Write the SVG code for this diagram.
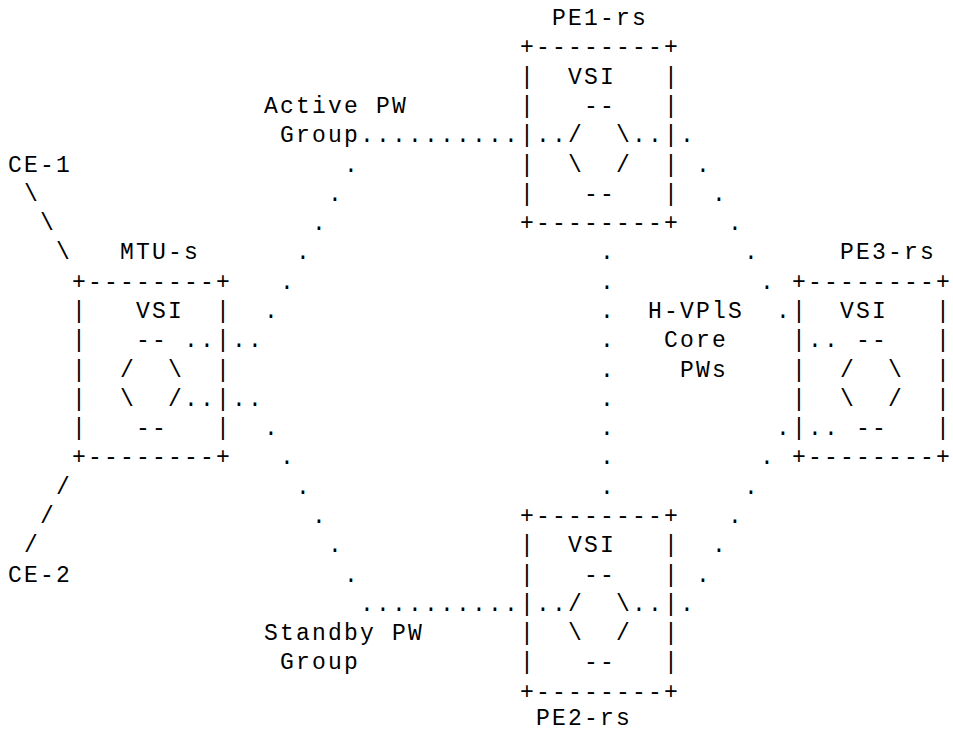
<svg xmlns="http://www.w3.org/2000/svg" width="953" height="733" viewBox="0 0 953 733">
<style>
text { font-family: "Liberation Mono", "DejaVu Sans Mono", monospace; font-size: 23px; letter-spacing: 2.2px; fill: #000000; white-space: pre; }
</style>
<rect width="953" height="733" fill="#fff"/>
<g id="ce1"><text x="8.1" y="171.5">CE-1</text></g>
<g id="ce2"><text x="8.1" y="581.5">CE-2</text></g>
<g id="mtu-s" xml:space="preserve">
<text x="120.1" y="259.3">MTU-s</text>
<text x="72.1" y="288.6">+--------+</text>
<text x="72.1" y="317.9">|   VSI  |</text>
<text x="72.1" y="347.2">|   -- ..|</text>
<text x="72.1" y="376.5">|  /  \  |</text>
<text x="72.1" y="405.8">|  \  /..|</text>
<text x="72.1" y="435.1">|   --   |</text>
<text x="72.1" y="464.4">+--------+</text>
</g>
<g id="pe1-rs" xml:space="preserve">
<text x="552.1" y="25">PE1-rs</text>
<text x="520.1" y="54.3">+--------+</text>
<text x="520.1" y="83.6">|  VSI   |</text>
<text x="520.1" y="112.9">|   --   |</text>
<text x="520.1" y="142.2">|../  \..|</text>
<text x="520.1" y="171.5">|  \  /  |</text>
<text x="520.1" y="200.7">|   --   |</text>
<text x="520.1" y="230">+--------+</text>
</g>
<g id="pe3-rs" xml:space="preserve">
<text x="840.1" y="259.3">PE3-rs</text>
<text x="792.1" y="288.6">+--------+</text>
<text x="792.1" y="317.9">|  VSI   |</text>
<text x="792.1" y="347.2">|.. --   |</text>
<text x="792.1" y="376.5">|  /  \  |</text>
<text x="792.1" y="405.8">|  \  /  |</text>
<text x="792.1" y="435.1">|.. --   |</text>
<text x="792.1" y="464.4">+--------+</text>
</g>
<g id="pe2-rs" xml:space="preserve">
<text x="520.1" y="522.9">+--------+</text>
<text x="520.1" y="552.2">|  VSI   |</text>
<text x="520.1" y="581.5">|   --   |</text>
<text x="520.1" y="610.8">|../  \..|</text>
<text x="520.1" y="640.1">|  \  /  |</text>
<text x="520.1" y="669.4">|   --   |</text>
<text x="520.1" y="698.7">+--------+</text>
<text x="536.1" y="725">PE2-rs</text>
</g>
<g id="labels">
<text x="264.1" y="112.9">Active PW</text>
<text x="280.1" y="142.2">Group</text>
<text x="264.1" y="640.1">Standby PW</text>
<text x="280.1" y="669.4">Group</text>
<text x="648.1" y="317.9">H-VPlS</text>
<text x="664.1" y="347.2">Core</text>
<text x="680.1" y="376.5">PWs</text>
</g>
<g id="connectors">
<text x="24.1" y="200.7">\</text>
<text x="40.1" y="230">\</text>
<text x="56.1" y="259.3">\</text>
<text x="56.1" y="493.6">/</text>
<text x="40.1" y="522.9">/</text>
<text x="24.1" y="552.2">/</text>
<text x="360.1" y="142.2">..........</text>
<text x="344.1" y="171.5">.</text>
<text x="328.1" y="200.7">.</text>
<text x="312.1" y="230">.</text>
<text x="296.1" y="259.3">.</text>
<text x="280.1" y="288.6">.</text>
<text x="264.1" y="317.9">.</text>
<text x="232.1" y="347.2">..</text>
<text x="232.1" y="405.8">..</text>
<text x="264.1" y="435.1">.</text>
<text x="280.1" y="464.4">.</text>
<text x="296.1" y="493.6">.</text>
<text x="312.1" y="522.9">.</text>
<text x="328.1" y="552.2">.</text>
<text x="344.1" y="581.5">.</text>
<text x="360.1" y="610.8">..........</text>
<text x="600.1" y="259.3">.</text>
<text x="600.1" y="288.6">.</text>
<text x="600.1" y="317.9">.</text>
<text x="600.1" y="347.2">.</text>
<text x="600.1" y="376.5">.</text>
<text x="600.1" y="405.8">.</text>
<text x="600.1" y="435.1">.</text>
<text x="600.1" y="464.4">.</text>
<text x="600.1" y="493.6">.</text>
<text x="680.1" y="142.2">.</text>
<text x="696.1" y="171.5">.</text>
<text x="712.1" y="200.7">.</text>
<text x="728.1" y="230">.</text>
<text x="744.1" y="259.3">.</text>
<text x="760.1" y="288.6">.</text>
<text x="776.1" y="317.9">.</text>
<text x="776.1" y="435.1">.</text>
<text x="760.1" y="464.4">.</text>
<text x="744.1" y="493.6">.</text>
<text x="728.1" y="522.9">.</text>
<text x="712.1" y="552.2">.</text>
<text x="696.1" y="581.5">.</text>
<text x="680.1" y="610.8">.</text>
</g>
</svg>
